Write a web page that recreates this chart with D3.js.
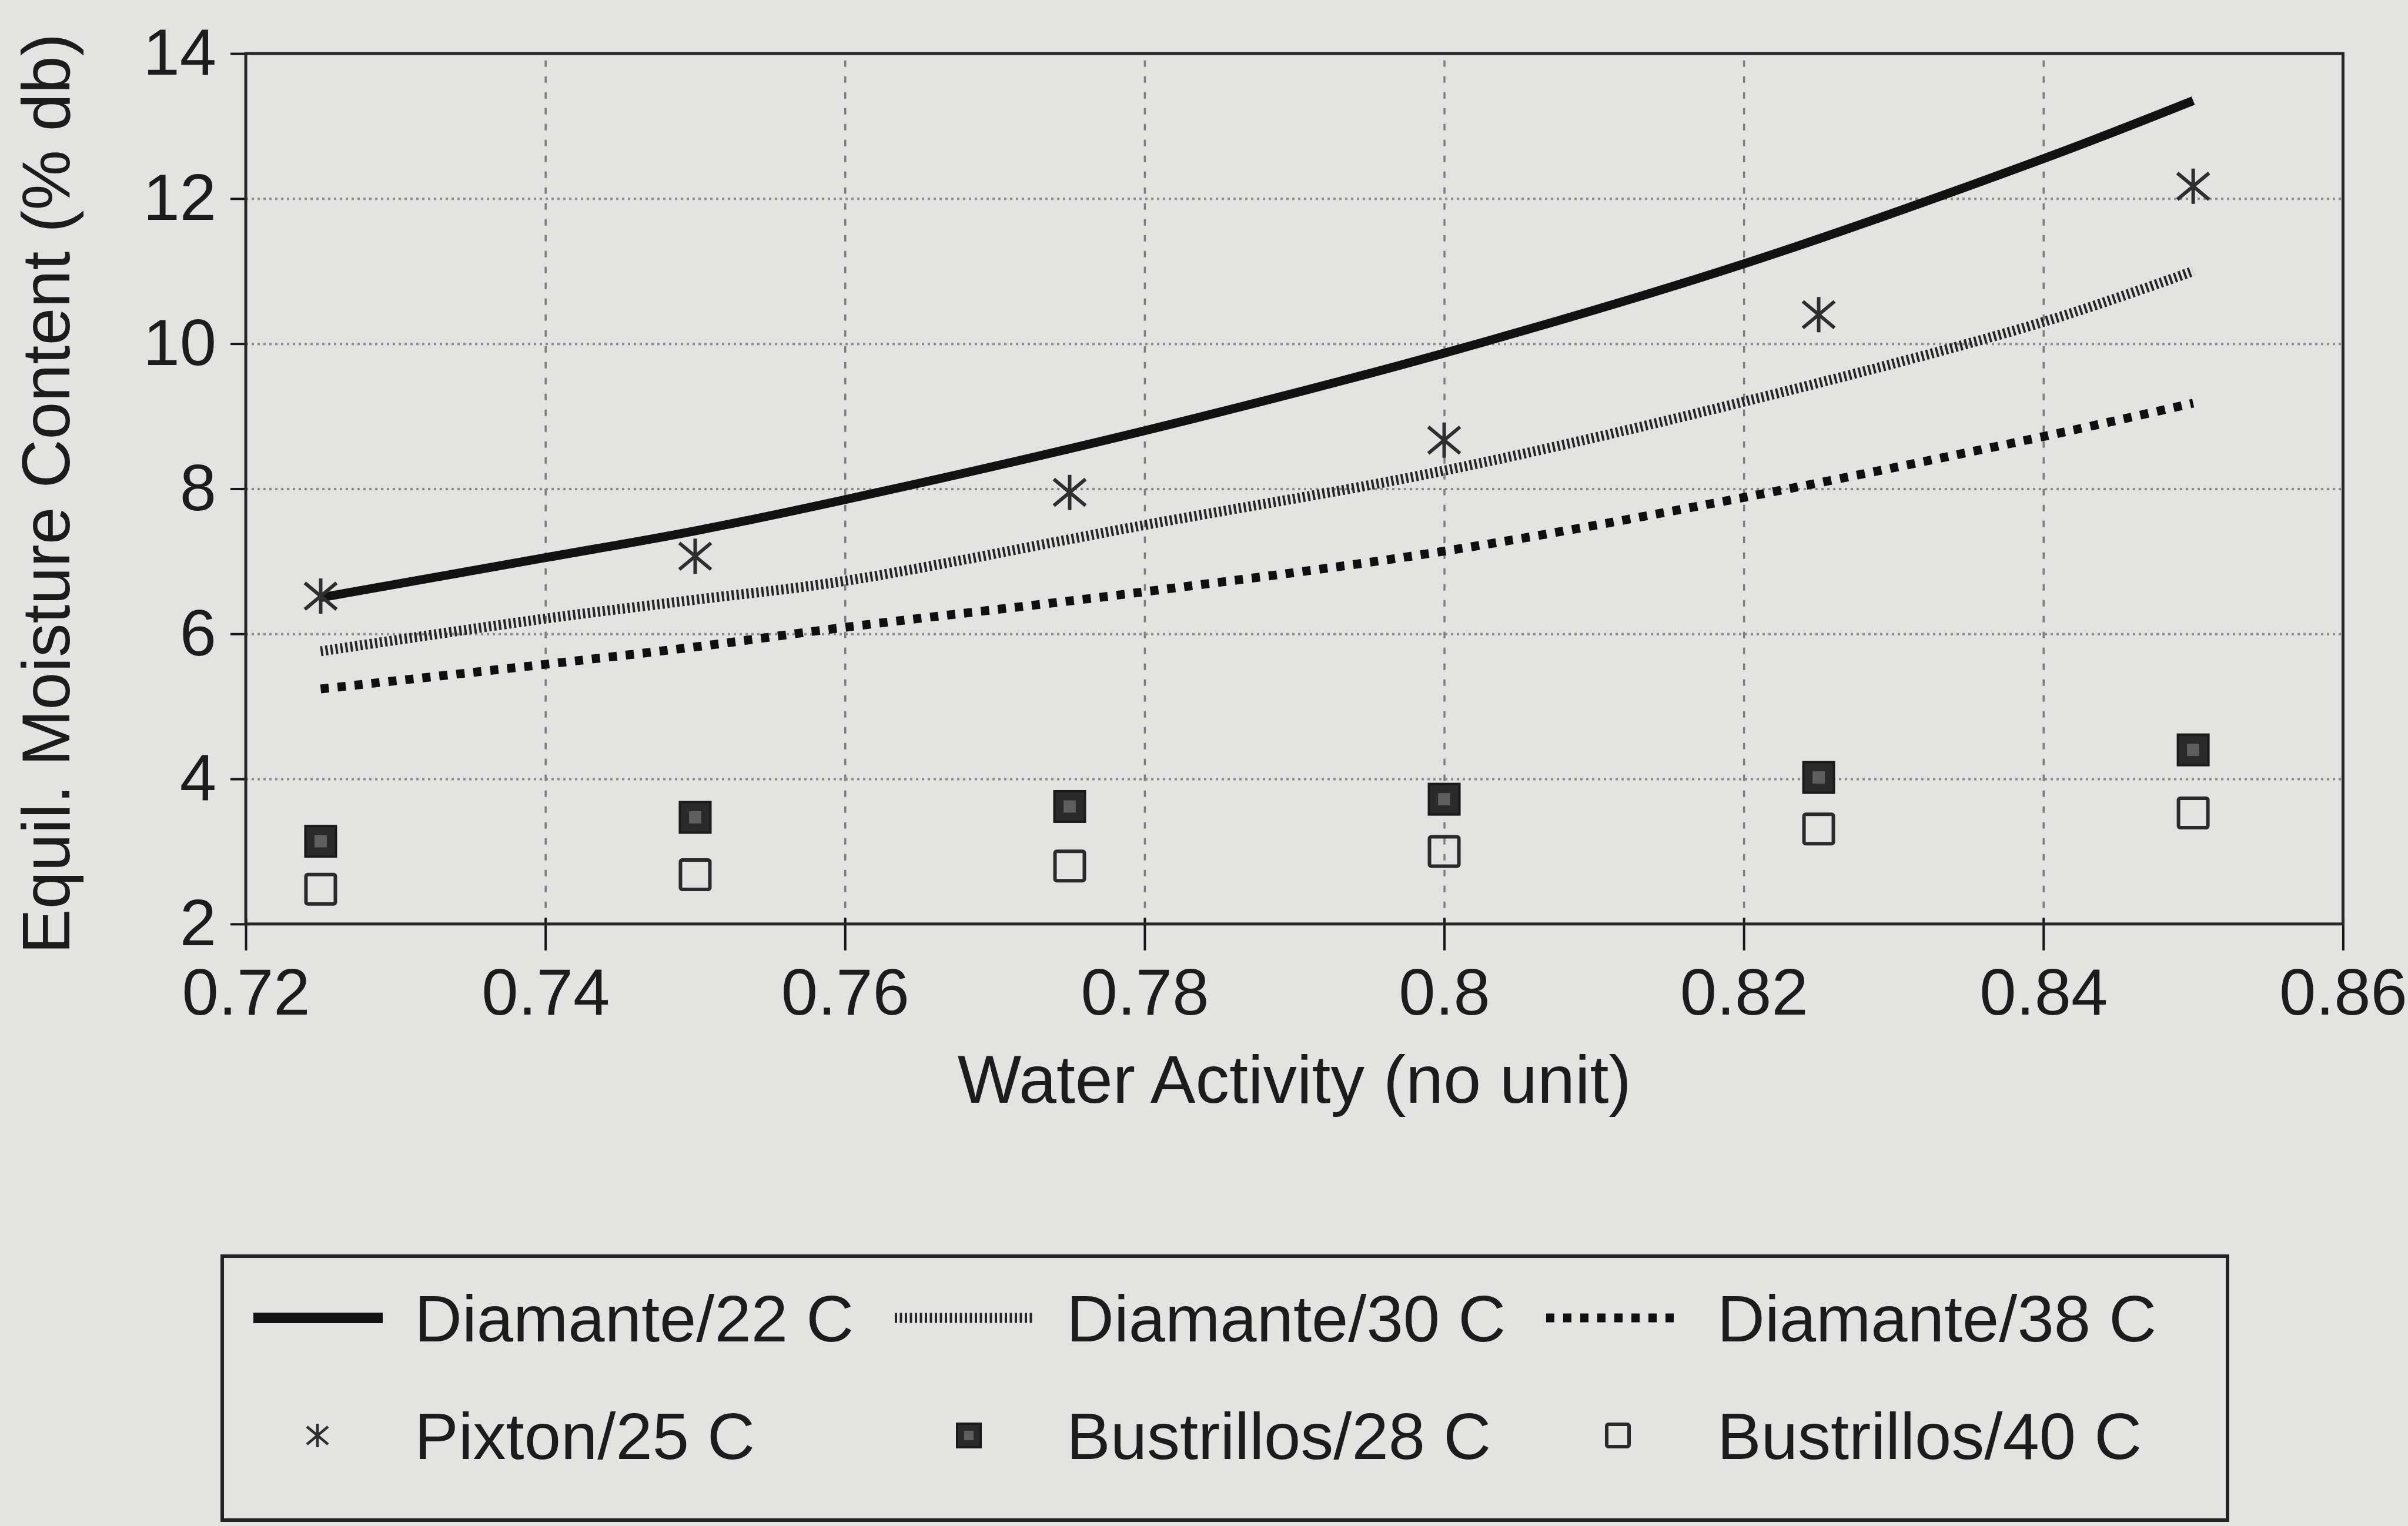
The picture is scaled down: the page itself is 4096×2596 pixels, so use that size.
<!DOCTYPE html>
<html>
<head>
<meta charset="utf-8">
<script src="https://cdn.jsdelivr.net/npm/d3@7"></script>
<style>
  html, body { margin: 0; padding: 0; background: #e3e3e1; }
  svg { display: block; }
  text { font-family: "Liberation Sans", Arial, sans-serif; fill: #1c1c1c; }
</style>
</head>
<body>
<svg id="chart" width="4096" height="2596"></svg>
<script>
// ---- data ----
const awFit = [0.725, 0.74, 0.75, 0.76, 0.78, 0.80, 0.82, 0.84, 0.85];
const diamante22 = [6.5, 7.05, 7.42, 7.85, 8.8, 9.87, 11.1, 12.55, 13.35];
const diamante30 = [5.76, 6.21, 6.47, 6.73, 7.5, 8.25, 9.2, 10.3, 11.0];
const diamante38 = [5.24, 5.58, 5.82, 6.09, 6.58, 7.14, 7.88, 8.72, 9.18];

const awObs = [0.725, 0.75, 0.775, 0.80, 0.825, 0.85];
const pixton25 = [6.52, 7.07, 7.95, 8.67, 10.4, 12.17];
const bustrillos28 = [3.14, 3.47, 3.62, 3.72, 4.02, 4.4];
const bustrillos40 = [2.48, 2.68, 2.8, 3.0, 3.31, 3.53];

const xTicks = [0.72, 0.74, 0.76, 0.78, 0.80, 0.82, 0.84, 0.86];
const xTickLabels = ["0.72", "0.74", "0.76", "0.78", "0.8", "0.82", "0.84", "0.86"];
const yTicks = [2, 4, 6, 8, 10, 12, 14];
const yTickLabels = ["2", "4", "6", "8", "10", "12", "14"];

const xTitle = "Water Activity (no unit)";
const yTitle = "Equil. Moisture Content (% db)";
const legendNames = ["Diamante/22 C", "Diamante/30 C", "Diamante/38 C",
                     "Pixton/25 C", "Bustrillos/28 C", "Bustrillos/40 C"];

// ---- layout ----
const S = 0.929;
const pL = 450 * S, pR = 4290 * S, pT = 98 * S, pB = 1692 * S;
const fontPx = 112;
const ink = "#161616";

const svg = d3.select("#chart");

const x = d3.scaleLinear().domain([0.72, 0.86]).range([pL, pR]);
const y = d3.scaleLinear().domain([2, 14]).range([pB, pT]);

// grid lines
const grid = svg.append("g");
grid.append("g")
  .attr("transform", `translate(0,${pB})`)
  .call(d3.axisBottom(x).tickValues(xTicks.slice(1, -1)).tickSize(-(pB - pT)).tickFormat(""))
  .call(g => g.select(".domain").remove())
  .call(g => g.selectAll("line").attr("stroke", "#7d7d7d").attr("stroke-width", 3.5)
    .attr("stroke-dasharray", "11 16"));
grid.append("g")
  .attr("transform", `translate(${pL},0)`)
  .call(d3.axisLeft(y).tickValues(yTicks.slice(1, -1)).tickSize(-(pR - pL)).tickFormat(""))
  .call(g => g.select(".domain").remove())
  .call(g => g.selectAll("line").attr("stroke", "#8a8a8a").attr("stroke-width", 4)
    .attr("stroke-dasharray", "4 6"));

// axes with ticks
const xAxis = svg.append("g")
  .attr("transform", `translate(0,${pB})`)
  .call(d3.axisBottom(x).tickValues(xTicks).tickSizeInner(45).tickSizeOuter(0)
    .tickPadding(30).tickFormat((d, i) => xTickLabels[i]));
xAxis.select(".domain").remove();
xAxis.selectAll("line").attr("stroke", ink).attr("stroke-width", 4).attr("y1", -10);
xAxis.selectAll("text").attr("font-size", fontPx).attr("fill", "#1c1c1c")
  .attr("font-family", "Liberation Sans, Arial, sans-serif");

const yAxis = svg.append("g")
  .attr("transform", `translate(${pL},0)`)
  .call(d3.axisLeft(y).tickValues(yTicks).tickSizeInner(26).tickSizeOuter(0)
    .tickPadding(24).tickFormat((d, i) => yTickLabels[i]));
yAxis.select(".domain").remove();
yAxis.selectAll("line").attr("stroke", ink).attr("stroke-width", 4);
yAxis.selectAll("text").attr("font-size", fontPx).attr("fill", "#1c1c1c")
  .attr("font-family", "Liberation Sans, Arial, sans-serif");

// frame
svg.append("rect")
  .attr("x", pL).attr("y", pT)
  .attr("width", pR - pL).attr("height", pB - pT)
  .attr("fill", "none").attr("stroke", "#262626").attr("stroke-width", 5);

// axis titles
svg.append("text")
  .attr("x", (pL + pR) / 2).attr("y", 1876)
  .attr("text-anchor", "middle").attr("font-size", 115)
  .text(xTitle);
svg.append("text")
  .attr("transform", `translate(118,840) rotate(-90)`)
  .attr("text-anchor", "middle").attr("font-size", 115)
  .text(yTitle);

// line styles
const lineStyles = [
  { w: 15, dash: null, color: "#121212" },
  { w: 17, dash: "4 4.5", color: "#262626" },
  { w: 15, dash: "14 15", color: "#101010" }
];
const fits = [diamante22, diamante30, diamante38];
const lineGen = d3.line().curve(d3.curveCatmullRom.alpha(0.5));
fits.forEach((vals, k) => {
  const st = lineStyles[k];
  svg.append("path")
    .attr("d", lineGen(awFit.map((a, i) => [x(a), y(vals[i])])))
    .attr("fill", "none").attr("stroke", st.color).attr("stroke-width", st.w)
    .attr("stroke-dasharray", st.dash);
});

// markers
function star(g, cx, cy, r, sw) {
  const p = d3.path();
  p.moveTo(cx, cy - r); p.lineTo(cx, cy + r);
  const dx = r * 0.9, dy = r * 0.75;
  p.moveTo(cx - dx, cy - dy); p.lineTo(cx + dx, cy + dy);
  p.moveTo(cx - dx, cy + dy); p.lineTo(cx + dx, cy - dy);
  g.append("path").attr("d", p.toString()).attr("stroke", "#2e2e2e")
    .attr("stroke-width", sw).attr("fill", "none");
}
function filledSquare(g, cx, cy, s) {
  g.append("rect").attr("x", cx - s / 2).attr("y", cy - s / 2)
    .attr("width", s).attr("height", s).attr("fill", "#2a2a2a")
    .attr("stroke", "#1a1a1a").attr("stroke-width", 4);
  g.append("rect").attr("x", cx - s / 5).attr("y", cy - s / 5)
    .attr("width", s * 0.4).attr("height", s * 0.4).attr("fill", "#5e5e5e");
}
function openSquare(g, cx, cy, s) {
  g.append("rect").attr("x", cx - s / 2).attr("y", cy - s / 2)
    .attr("width", s).attr("height", s).attr("fill", "none")
    .attr("stroke", "#2a2a2a").attr("stroke-width", 6).attr("rx", 3);
}

const marks = svg.append("g");
awObs.forEach((a, i) => star(marks, x(a), y(pixton25[i]), 30, 6));
awObs.forEach((a, i) => filledSquare(marks, x(a), y(bustrillos28[i]), 52));
awObs.forEach((a, i) => openSquare(marks, x(a), y(bustrillos40[i]), 50));

// legend
const leg = svg.append("g");
leg.append("rect")
  .attr("x", 378).attr("y", 2137).attr("width", 3789 - 378).attr("height", 2586 - 2137)
  .attr("fill", "none").attr("stroke", "#222").attr("stroke-width", 6);

const row1 = 2242, row2 = 2442;
const sampleX = [[431, 651], [1522, 1760], [2630, 2855]];
const textX = [705, 1814, 2921];
lineStyles.forEach((st, k) => {
  leg.append("line")
    .attr("x1", sampleX[k][0]).attr("x2", sampleX[k][1])
    .attr("y1", row1).attr("y2", row1)
    .attr("stroke", st.color).attr("stroke-width", k === 0 ? 18 : st.w)
    .attr("stroke-dasharray", st.dash);
  leg.append("text").attr("x", textX[k]).attr("y", row1)
    .attr("dy", "0.36em").attr("font-size", fontPx).text(legendNames[k]);
});
star(leg, 540, row2, 20, 4.5);
filledSquare(leg, 1648, row2, 40);
openSquare(leg, 2752, row2, 38);
[3, 4, 5].forEach((k, j) => {
  leg.append("text").attr("x", textX[j]).attr("y", row2)
    .attr("dy", "0.36em").attr("font-size", fontPx).text(legendNames[k]);
});
</script>
</body>
</html>
